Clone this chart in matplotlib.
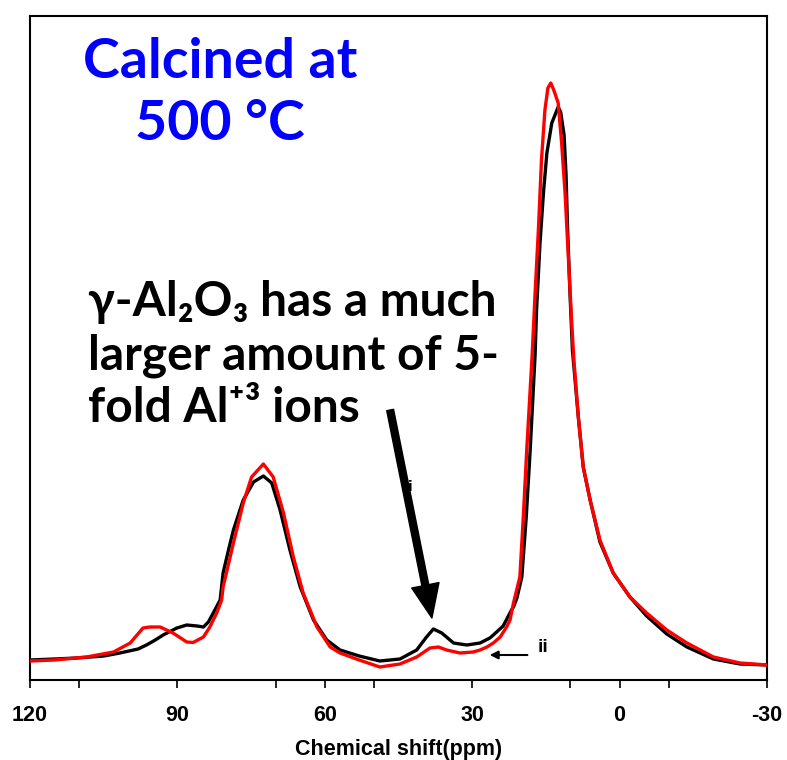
import matplotlib
matplotlib.use("Agg")
import matplotlib.pyplot as plt

# =============================================================================
# DATA (chemical shift in ppm, intensity in arbitrary units)
# =============================================================================

black_ppm = [120, 115, 110.5, 105, 101.7, 98, 96.3, 94.5, 92.9, 90.1, 88.1, 86, 84.7,
             83.7, 82.7, 81.3, 80.7, 79.6, 78.6, 76.6, 74.5, 72.5, 70.8, 69.1, 67.1,
             65.0, 62.3, 59.6, 56.9, 53, 48.8, 44.7, 41.3, 39.3, 37.9, 36.2, 33.8,
             31.1, 28.4, 26.4, 25.7, 23.7, 22.0, 21.6, 20.9, 19.9, 19.0, 18.2, 17.2,
             16.9, 16.2, 15.5, 14.8, 13.8, 12.5, 12.0, 11.3, 10.9, 10.6, 10.1, 9.6,
             8.4, 7.4, 6.0, 4.0, 1.3, -2.1, -5.5, -9.6, -13.7, -19.1, -24.5, -30]
black_int = [20, 21, 22, 24, 27, 31, 35, 40, 45, 52, 55, 54, 53,
             58, 67, 80, 107, 130, 150, 180, 198, 204, 197, 170, 130,
             93, 60, 40, 30, 24, 19, 21, 30, 43, 51, 47, 37,
             35, 37, 42, 45, 54, 70, 73, 82, 103, 163, 230, 325,
             370, 437, 487, 527, 557, 573, 568, 545, 505, 453, 387, 330,
             263, 213, 180, 138, 107, 83, 64, 46, 33, 21, 16, 15]

red_ppm = [120, 115, 108.5, 103, 99.6, 97, 95.6, 93.5, 90.9, 88.1, 86.8, 84.7, 83.4,
           82.7, 82.0, 81.0, 80.7, 78.6, 76.6, 74.9, 72.5, 70.5, 68.4, 66.4, 64.4,
           61.6, 58.9, 56.9, 53, 48.8, 44.7, 41.3, 38.6, 36.9, 35.2, 32.5, 29.8,
           28.4, 27.0, 25.7, 24.3, 23.0, 22.3, 21.6, 20.3, 19.6, 18.9, 17.8, 17.2,
           16.5, 15.9, 15.2, 14.6, 14.0, 13.4, 12.5, 11.8, 11.1, 10.4, 9.7, 9.3,
           8.4, 7.4, 6.0, 4.0, 1.3, -2.1, -5.5, -9.6, -13.7, -19.1, -24.5, -30]
red_int = [19, 20, 23, 28, 37, 52, 53, 53, 47, 38, 37.5, 43, 53,
           60, 67, 80, 93, 137, 177, 203, 216, 203, 167, 123, 87,
           53, 33, 27, 20, 13, 16, 23, 32, 33, 30, 27, 28,
           30, 33, 37, 43, 53, 60, 77, 103, 163, 230, 325, 387,
           453, 520, 570, 592, 597, 590, 577, 537, 487, 420, 353, 320,
           263, 213, 180, 140, 107, 83, 67, 50, 37, 23, 17, 15]

major_ticks = [120, 90, 60, 30, 0, -30]
minor_ticks = [110, 70, 50, 10, -10]

# =============================================================================
# FIGURE
# =============================================================================

fig = plt.figure(figsize=(7.87, 7.60), dpi=100)
ax = fig.add_axes([30 / 787, 80 / 760, 737 / 787, 664 / 760])

ax.plot(black_ppm, black_int, color='black', linewidth=2.4, zorder=3,
        solid_joinstyle='round', solid_capstyle='round')
ax.plot(red_ppm, red_int, color='red', linewidth=2.4, zorder=4,
        solid_joinstyle='round', solid_capstyle='round')

ax.set_xlim(120, -30)
ax.set_ylim(0, 664)

ax.set_yticks([])
ax.set_xticks(major_ticks)
ax.set_xticks(minor_ticks, minor=True)
ax.set_xticklabels([str(t) for t in major_ticks],
                   fontfamily='Liberation Sans', fontweight='bold', fontsize=15.5)
ax.tick_params(axis='x', which='both', direction='out', length=6, width=1.2, pad=12)

for s in ax.spines.values():
    s.set_linewidth(1.5)

ax.set_xlabel('Chemical shift(ppm)', fontfamily='Liberation Sans',
              fontweight='bold', fontsize=15.5, labelpad=9)

# titulo azul
title_font = dict(family=['Lato', 'DejaVu Sans'], weight='bold', color='#0000ff',
                  fontsize=40, ha='center', va='baseline', transform=ax.transAxes)
ax.text(0.258, 0.9066, 'Calcined at', **title_font)
ax.text(0.258, 0.8133, '500 °C', **title_font)

# anotacao preta
note_font = dict(family=['Lato', 'DejaVu Sans'], weight='bold', color='black',
                 fontsize=34.5, ha='left', va='baseline', transform=ax.transAxes)
ax.text(0.0787, 0.548, 'γ-Al₂O₃ has a much', **note_font)
ax.text(0.0787, 0.4669, 'larger amount of 5-', **note_font)
ax.text(0.0787, 0.3886, 'fold Al⁺³ ions', **note_font)

# setas e rotulos i / ii
ax.text(42.7, 193, 'i', fontsize=10, fontweight='bold', ha='center', va='center', zorder=2)
ax.annotate('', xy=(38.2, 62), xytext=(46.7, 270),
            arrowprops=dict(facecolor='black', edgecolor='black', width=5,
                            headwidth=20, headlength=24, shrink=0), zorder=5)

ax.text(15.6, 33, 'ii', fontfamily='Liberation Sans', fontsize=14,
        fontweight='bold', ha='center', va='center')
ax.annotate('', xy=(27.0, 25), xytext=(18.2, 25),
            arrowprops=dict(arrowstyle='-|>', color='black', lw=1.5,
                            mutation_scale=12))

fig.savefig('out.png', dpi=100)
